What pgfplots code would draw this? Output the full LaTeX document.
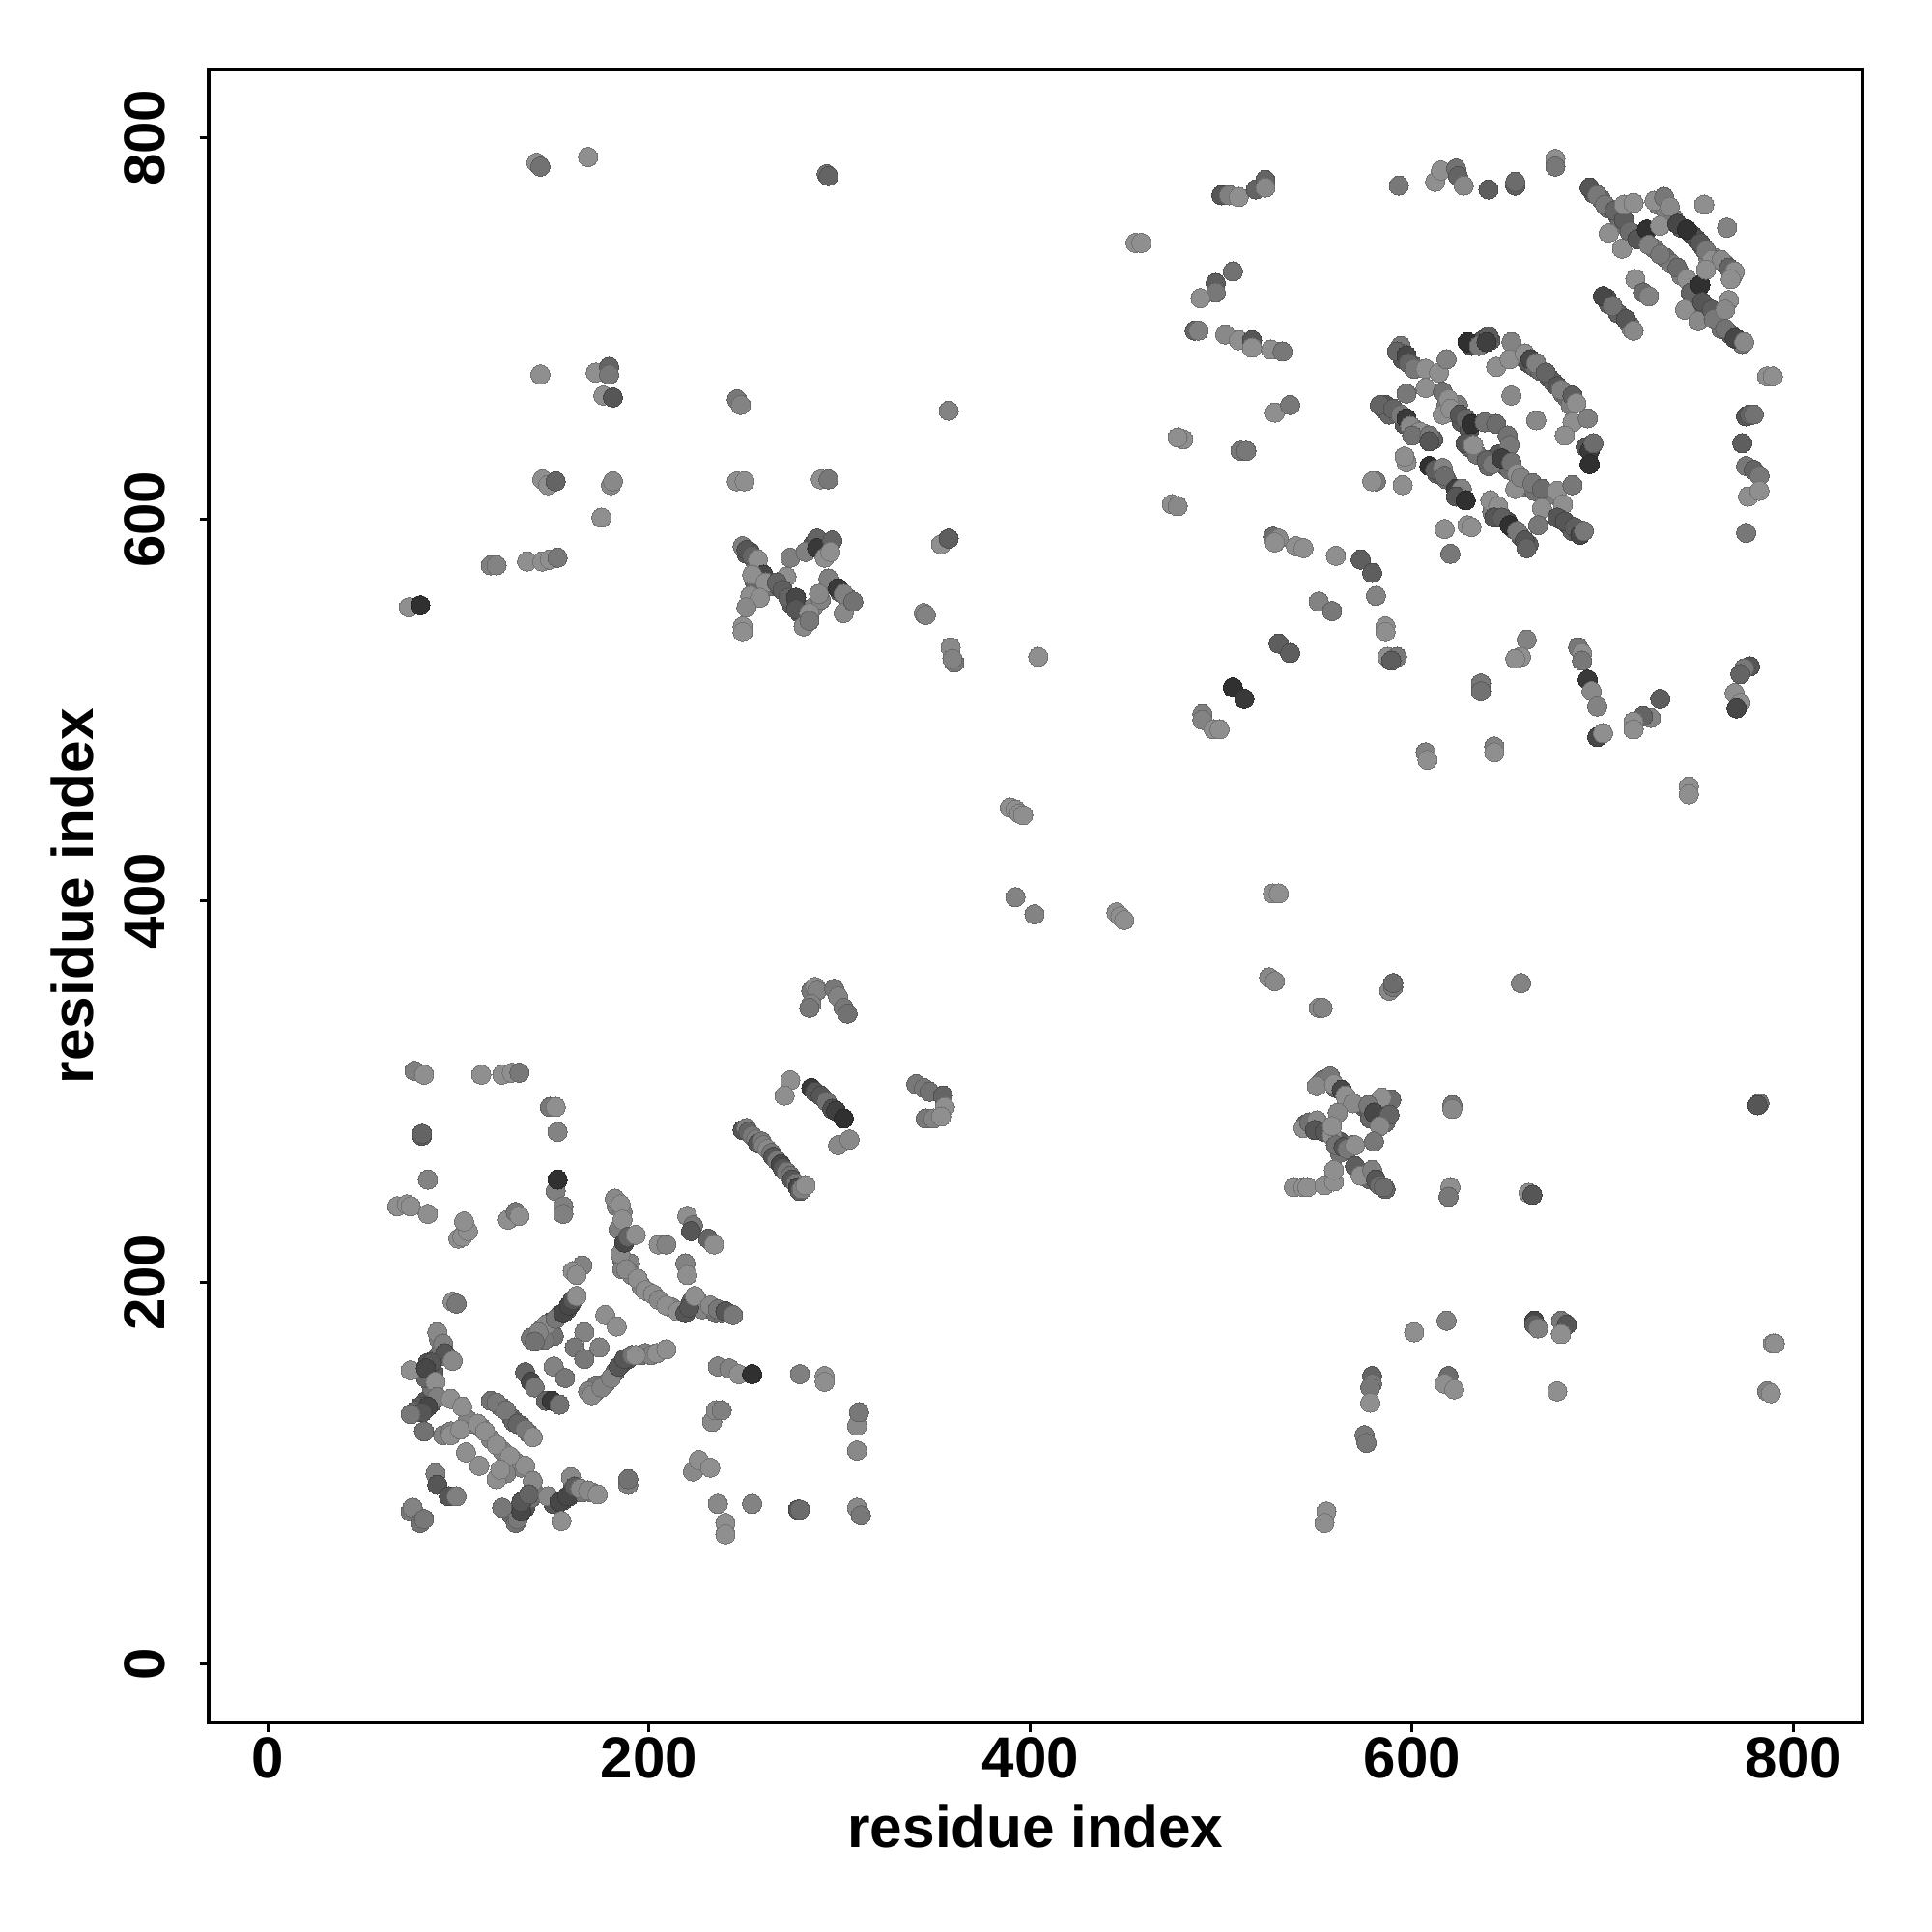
\documentclass[border=0pt]{standalone}
\usepackage{fontspec}
\setmainfont{Liberation Sans}
\usepackage{pgfplots}
\pgfplotsset{compat=1.18}
\begin{document}
\begin{tikzpicture}
\path (-64.8pt,-64.9pt) rectangle (535.2pt,535.1pt);
\begin{axis}[
  scale only axis, width=513.6pt, height=513.6pt,
  xmin=-30.9, xmax=836, ymin=-30.9, ymax=836,
  xtick={0,200,400,600,800}, ytick={0,200,400,600,800},
  tick pos=left, tick align=outside, major tick length=2.8pt,
  axis line style={line width=1pt}, tick style={line width=0.9pt,black},
  /pgf/number format/assume math mode=true,
  tick label style={font=\fontsize{18}{20}\selectfont\bfseries},
  xticklabel style={anchor=north,inner sep=0pt,yshift=-1.4pt},
  yticklabel style={rotate=90,anchor=base,inner sep=0pt,yshift=10.7pt},
  every axis x label/.style={at={(axis description cs:0.5,0)},anchor=base,yshift=-38.6pt},
  every axis y label/.style={at={(axis description cs:0,0.5)},xshift=-35.7pt,rotate=90,anchor=base},
  label style={font=\fontsize{18.1}{20}\selectfont\bfseries},
  xlabel={residue index}, ylabel={residue index},
  colormap={g}{gray(0)=(0); gray(100)=(1)},
  point meta min=0, point meta max=90,
]
\addplot[scatter, only marks, mark=*, mark size=3pt, mark options={line width=0pt},
  scatter src=explicit] table[x=x,y=y,meta=g] {
x y g
144 176 36
148 179 30
153 183 28
157 186 30
159 189 36
150 172 40
145 170 42
141 172 42
138 171 42
172 143 42
177 147 42
182 153 36
186 158 30
189 160 30
196 162 42
198 163 46
201 162 46
172 146 42
168 143 46
83 138 30
86 137 30
80 135 32
84 158 30
87 153 32
89 161 36
91 165 40
90 170 44
86 145 40
83 150 36
78 133 34
117 138 40
122 135 40
128 129 36
133 125 38
137 121 44
129 127 36
92 120 46
96 122 46
106 126 46
105 128 46
112 124 46
117 118 46
123 112 46
130 106 46
133 103 46
125 100 46
135 82 30
138 87 40
140 90 42
150 84 30
155 86 28
158 88 30
160 92 36
165 90 42
170 90 44
128 78 36
130 74 40
183 240 46
186 237 46
184 228 44
186 212 40
190 210 46
186 207 46
191 204 46
196 198 46
200 195 46
212 187 46
218 185 40
222 190 34
226 190 46
228 186 46
235 184 40
238 184 40
255 568 36
263 565 40
268 565 34
275 555 32
279 551 30
282 547 40
286 554 46
290 558 46
296 566 36
300 562 36
304 559 40
286 587 30
290 584 30
293 586 36
251 582 32
253 583 30
256 577 40
544 283 36
552 282 32
556 280 36
562 274 32
568 272 40
562 268 40
575 257 42
578 254 36
586 249 36
553 306 40
560 302 34
575 292 32
578 286 36
586 292 40
586 284 38
582 290 34
695 771 32
699 768 38
703 763 38
708 759 34
709 755 38
716 749 32
721 748 30
727 742 40
733 737 38
736 734 42
741 728 44
748 722 36
749 714 34
754 708 36
760 704 40
762 700 40
767 697 30
771 694 30
773 692 40
729 765 44
733 762 44
737 758 42
741 753 32
747 749 26
749 747 28
753 742 36
755 738 46
759 737 46
764 734 40
768 728 46
702 716 28
703 713 34
708 708 34
714 702 40
715 700 46
593 689 36
595 684 30
600 681 36
585 658 34
588 655 36
592 656 38
596 650 30
602 647 44
606 645 44
611 642 34
618 660 44
622 656 40
626 651 32
630 647 30
624 660 44
630 638 36
634 634 40
640 628 38
645 634 30
649 628 30
651 626 38
656 620 46
660 617 42
664 615 40
671 613 44
658 685 40
661 682 30
664 680 36
667 678 38
672 674 34
674 672 34
679 666 38
681 664 38
683 660 44
613 624 34
618 621 38
625 613 30
627 611 26
642 604 44
646 603 36
650 599 26
653 595 34
657 591 34
661 587 34
678 600 32
682 597 32
684 594 34
687 593 36
631 691 24
637 694 30
641 694 32
594 688 38
77 311 45
82 309 50
112 309 50
123 309 50
128 310 50
132 310 42
148 292 42
151 292 50
152 279 46
81 277 33
81 278 35
84 254 46
151 248 45
155 240 45
155 236 45
152 254 17
68 240 50
73 241 50
75 240 50
84 236 50
100 223 50
102 224 50
105 227 50
103 232 50
126 233 50
130 237 42
132 235 50
249 280 30
251 281 45
252 279 35
254 277 42
256 275 45
257 273 30
259 274 42
260 272 45
262 270 48
264 268 42
265 266 30
267 264 42
269 262 25
270 260 30
272 258 42
274 256 40
275 254 30
277 252 42
278 250 25
279 248 33
280 249 45
282 251 50
274 306 50
271 298 50
285 302 20
287 300 30
290 298 30
293 295 40
296 291 28
298 290 22
302 286 17
299 272 48
305 275 48
182 244 48
185 241 50
186 233 50
185 215 48
187 221 25
189 224 35
193 225 50
188 207 48
194 202 50
198 196 50
202 194 50
205 191 48
209 188 50
215 185 50
219 184 30
221 187 30
224 193 50
232 188 48
236 186 42
240 185 30
244 183 42
220 235 50
223 230 42
222 227 30
231 223 35
234 220 50
205 220 50
209 220 46
219 210 46
220 204 50
165 209 46
160 206 50
162 204 50
146 178 48
142 174 46
140 169 40
151 181 42
155 184 25
158 188 25
160 191 30
162 193 50
177 183 50
183 177 50
166 174 46
161 166 42
174 166 46
166 160 42
150 156 46
156 150 42
170 141 48
175 145 46
180 150 46
184 156 30
187 160 30
191 162 40
193 162 50
204 163 50
209 165 50
135 153 35
138 148 25
140 145 42
146 138 35
149 138 20
153 136 40
97 190 50
99 189 42
89 174 48
92 168 45
93 163 30
97 159 48
75 154 50
86 158 30
83 155 25
88 148 50
89 140 45
84 135 25
81 132 30
75 131 42
82 122 40
96 139 50
102 135 50
120 137 42
125 133 42
131 126 35
135 123 42
139 119 50
96 120 50
101 123 50
110 126 50
114 122 50
104 111 50
111 104 50
120 115 50
127 109 50
120 97 50
122 102 50
135 104 50
139 96 48
88 100 45
89 94 30
95 88 30
99 88 45
75 80 42
76 82 46
80 74 40
82 76 42
123 82 42
131 76 42
133 80 25
133 85 30
137 89 35
147 88 48
153 85 25
157 88 25
154 75 50
159 98 48
161 93 33
164 92 48
168 91 48
173 89 50
189 94 45
189 97 40
223 101 48
226 107 50
232 103 50
233 127 48
235 133 48
238 133 45
236 84 48
254 84 46
240 74 50
240 68 50
278 81 30
279 81 38
309 82 48
311 78 42
309 125 48
310 132 42
309 112 48
236 156 46
242 155 46
247 152 50
254 152 17
279 152 45
292 151 50
292 148 50
141 787 50
143 785 40
168 790 50
293 781 40
294 780 35
143 676 50
172 677 50
179 680 35
179 676 42
176 665 50
181 664 30
246 663 42
248 660 46
357 657 46
144 621 50
147 618 50
151 620 35
180 618 48
181 620 48
175 601 50
246 620 50
250 620 50
290 621 50
294 621 42
117 576 45
120 576 46
136 578 50
144 578 50
148 579 50
152 580 42
74 554 50
80 555 17
344 551 48
345 550 46
358 533 48
360 525 42
359 527 46
404 528 50
353 587 50
357 590 33
249 586 45
251 584 30
254 581 35
257 579 50
260 571 25
254 571 50
261 567 50
253 560 50
258 559 50
251 554 48
249 544 50
249 541 50
274 580 45
272 570 50
267 567 35
270 563 33
273 559 35
277 559 25
277 553 30
281 544 48
284 551 50
284 547 42
282 583 45
288 590 35
288 585 20
296 589 35
292 580 50
295 583 50
294 569 45
289 561 48
299 564 20
302 561 45
302 551 48
307 557 40
389 449 50
392 448 50
394 446 50
396 445 50
392 402 46
402 393 46
445 394 50
447 392 50
449 390 50
527 404 50
530 404 50
525 360 48
528 358 48
551 344 48
553 344 46
588 353 48
590 355 42
590 357 38
657 357 46
340 304 42
344 302 42
347 300 40
354 298 35
355 292 50
345 286 42
349 286 46
353 287 50
285 353 42
287 355 50
288 353 46
285 346 46
284 344 42
297 354 42
299 350 46
302 344 42
304 341 40
557 308 42
550 303 48
559 304 50
563 301 25
565 298 50
569 294 48
561 289 48
589 296 38
584 297 50
577 293 42
580 289 25
588 288 35
583 282 48
580 274 42
543 281 50
546 284 40
550 285 48
549 280 30
554 279 30
558 277 50
560 272 40
564 271 30
566 270 42
570 272 50
558 282 50
538 250 50
543 250 50
545 250 50
554 251 50
559 253 50
559 259 50
570 261 33
573 256 50
579 259 45
581 254 30
583 251 38
585 250 38
621 293 42
621 291 48
620 250 50
619 245 42
555 80 30
555 80 50
554 74 50
579 151 35
579 147 42
578 145 42
578 137 50
575 120 42
576 116 42
601 174 50
618 180 46
619 151 38
617 147 50
622 144 50
664 180 25
664 178 33
666 176 45
678 180 42
681 178 30
678 173 50
676 143 50
789 168 50
790 168 50
786 143 46
788 142 50
782 294 40
781 293 30
661 247 50
663 246 30
455 745 50
458 745 50
500 770 30
504 770 45
509 769 50
518 773 35
523 778 35
523 774 48
506 730 40
497 724 33
497 719 42
489 716 50
486 699 35
488 699 45
502 697 48
509 694 50
516 694 30
516 690 50
526 689 50
532 688 42
593 775 42
612 777 50
615 783 50
623 784 40
624 780 35
627 775 48
640 773 33
654 775 33
654 777 38
675 789 50
675 785 42
693 774 30
697 770 42
701 765 42
706 762 35
711 757 33
711 765 50
716 766 50
703 750 50
710 742 50
714 751 38
718 747 30
723 752 17
724 744 45
730 739 42
739 732 38
744 726 50
746 719 35
751 723 17
743 710 50
750 704 48
752 714 30
757 710 33
758 705 42
766 715 50
764 710 48
764 700 40
769 695 25
774 693 48
727 767 50
732 769 42
735 764 48
730 754 50
739 755 25
744 752 17
751 745 30
754 741 42
757 736 50
762 736 48
766 732 35
769 730 50
767 726 50
754 731 50
753 765 50
765 753 46
700 717 25
705 712 40
712 705 30
716 699 48
717 726 50
721 719 38
724 717 46
594 691 42
592 688 35
597 686 25
598 682 35
601 679 42
607 679 50
614 677 50
618 684 46
607 669 50
597 666 42
586 660 30
583 660 35
590 658 35
594 655 42
597 653 20
599 649 48
604 646 50
600 644 40
609 644 42
609 641 30
616 667 40
619 663 50
616 655 50
620 658 50
625 655 30
628 653 35
631 650 17
638 651 40
644 650 38
650 644 40
651 639 42
628 640 30
632 639 50
639 631 35
642 629 42
647 632 22
652 630 40
655 624 50
654 616 50
657 622 46
663 619 42
668 616 38
676 615 50
684 618 42
668 606 50
679 608 50
629 693 17
635 691 42
640 696 33
639 693 22
652 693 46
644 680 50
651 684 50
659 687 50
662 684 25
665 682 45
670 677 35
676 670 30
678 668 45
684 665 33
686 661 50
684 651 50
692 653 45
652 665 48
665 652 48
680 644 50
691 638 30
693 636 20
695 640 38
693 629 17
597 630 50
596 633 50
595 618 50
581 620 42
579 620 50
609 628 17
612 626 33
616 627 46
617 623 38
623 616 22
626 616 46
623 612 30
628 610 17
641 610 50
645 607 50
643 601 30
647 601 33
651 597 17
655 594 42
659 589 30
660 585 35
666 597 42
676 601 30
680 599 30
685 596 33
688 592 25
690 594 42
617 595 50
629 597 50
631 596 50
620 582 42
573 579 33
579 572 33
581 560 46
586 544 50
586 541 50
587 528 50
592 528 42
589 526 33
786 675 50
789 675 50
775 654 30
777 655 35
779 655 40
773 640 33
775 628 42
779 626 35
782 623 42
776 612 50
782 615 50
775 593 42
660 537 46
657 528 50
654 527 50
636 514 42
636 510 40
607 478 46
608 474 50
643 481 46
643 478 50
745 460 50
745 456 50
687 533 42
689 530 50
689 526 42
692 516 20
694 510 48
697 502 46
697 486 25
700 488 50
730 506 33
725 496 46
721 497 35
716 494 50
716 490 50
777 523 30
774 522 42
772 519 35
769 509 50
772 504 50
770 501 25
480 642 50
477 643 50
474 608 50
477 607 48
510 636 42
513 636 42
528 656 50
536 660 42
527 591 38
530 590 48
528 588 50
539 586 50
543 585 50
560 581 50
551 557 46
558 552 42
530 535 33
536 530 33
506 512 17
512 506 20
490 498 45
490 495 46
496 490 50
499 490 50
};
\end{axis}
\end{tikzpicture}
\end{document}
